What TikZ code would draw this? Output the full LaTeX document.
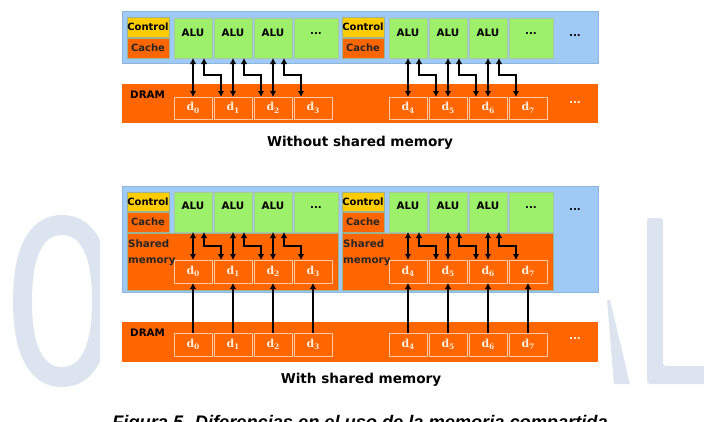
\documentclass[tikz,border=0pt]{standalone}
\usepackage{fontspec}
\setmainfont{DejaVu Sans}
\newfontfamily\capfont{Liberation Sans}
\newfontfamily\dfont{DejaVu Serif}
\usetikzlibrary{arrows.meta}
\definecolor{bluebg}{HTML}{9FCAF5}
\definecolor{blueline}{HTML}{8DB5DE}
\definecolor{alugreen}{HTML}{9CF06A}
\definecolor{aluline}{HTML}{A8C99C}
\definecolor{ctrlyellow}{HTML}{FFCC00}
\definecolor{memorange}{HTML}{FF6600}
\definecolor{dline}{HTML}{FFC9A3}
\definecolor{dtext}{HTML}{FFEBD9}
\definecolor{wmark}{HTML}{DCE4EF}
\tikzset{
  lbl/.style={font=\bfseries\fontsize{10.3}{12}\selectfont, text=black, inner sep=0pt},
  bigl/.style={font=\bfseries\fontsize{13.6}{16}\selectfont, text=black, inner sep=0pt},
  panel/.style={fill=bluebg, draw=blueline, line width=0.6pt, inner sep=0pt, outer sep=0pt},
  band/.style={fill=memorange, draw=none, inner sep=0pt, outer sep=0pt},
  alubox/.style={draw=aluline, fill=alugreen, line width=0.6pt, minimum width=38pt, minimum height=40pt, inner sep=0pt, outer sep=0pt},
  ctrlbox/.style={draw=aluline!70!gray, fill=ctrlyellow, line width=0.5pt, minimum width=42pt, inner sep=0pt, outer sep=0pt, font=\bfseries\fontsize{10}{12}\selectfont, text=black},
  cachebox/.style={draw=aluline!70!gray, fill=memorange, line width=0.5pt, minimum width=42pt, minimum height=20pt, inner sep=0pt, outer sep=0pt, font=\bfseries\fontsize{10}{12}\selectfont, text=black!85},
  dbox/.style={draw=dline, line width=0.8pt, minimum width=38pt, inner sep=0pt, outer sep=0pt, text=dtext, font=\dfont\bfseries\fontsize{11}{13}\selectfont},
  arr/.style={line width=1.6pt, {Latex[length=6pt,width=6.5pt]}-{Latex[length=6pt,width=6.5pt]}},
  uparr/.style={line width=1.6pt, -{Latex[length=6pt,width=6.5pt]}}
}
\newcommand{\dlab}[1]{d\raisebox{-2.4pt}{\fontsize{7.5}{7.5}\selectfont #1}}
\begin{document}
\begin{tikzpicture}[x=1pt,y=-1pt]
\useasboundingbox (0,0) rectangle (704,421);
\clip (0,0) rectangle (704,421);
% watermark
\begin{scope}
\clip (0,0) rectangle (100,421) (606,0) rectangle (704,421);
\fill[wmark, even odd rule]
  (13,301) .. controls (13,238) and (35,215) .. (62,215) .. controls (89,215) and (111,238) .. (111,301)
  .. controls (111,364) and (89,387) .. (62,387) .. controls (35,387) and (13,364) .. (13,301) -- cycle
  (32,301) .. controls (32,252) and (45,235) .. (62,235) .. controls (79,235) and (92,252) .. (92,301)
  .. controls (92,350) and (79,367) .. (62,367) .. controls (45,367) and (32,350) .. (32,301) -- cycle;
\fill[wmark] (607,300) -- (610,300) -- (630,384) -- (614,384) -- cycle;
\fill[wmark, rounded corners=3pt] (647,218) -- (663,218) -- (663,366) -- (712,366) -- (712,384) -- (647,384) -- cycle;
\end{scope}

% ===== top: without shared memory =====
\node[panel, minimum width=476pt, minimum height=52pt] (topbg) at (360,37) {};
\node[band, minimum width=476pt, minimum height=39pt] (tdram) at (360,103.5) {};
\node[lbl, anchor=base west] (tdramlbl) at (130,98) {DRAM};
\foreach \g/\dx in {0/0,1/215}{
  \node[ctrlbox, minimum height=20pt] (tc\g) at (148+\dx,27) {Control};
  \node[cachebox] (tk\g) at (148+\dx,48) {Cache};
  \foreach \i in {0,1,2}{
    \node[alubox] (ta\g\i) at (193+40*\i+\dx,38) {};
    \node[lbl, anchor=base] (tal\g\i) at ([yshift=-18pt]ta\g\i.north) {ALU};
  }
  \node[alubox, minimum width=44pt] (ta\g3) at (316+\dx,38) {};
  \node[lbl, anchor=base] (tal\g3) at ([yshift=-16pt]ta\g3.north) {...};
  \foreach \i [evaluate=\i as \n using {int(4*\g+\i)}] in {0,1,2,3}{
    \node[dbox, minimum height=22pt] (td\g\i) at (193+40*\i+\dx,108) {\dlab{\n}};
  }
  \foreach \i [evaluate=\i as \j using {int(\i+1)}] in {0,1,2}{
    \draw[arr] (ta\g\i.south) -- (td\g\i.north);
    \draw[arr] ([xshift=11pt]ta\g\i.south) -- ++(0,17) -| ([xshift=-12pt]td\g\j.north);
  }
}
\node[lbl, anchor=base] (tdots1) at (575,36) {...};
\node[lbl, anchor=base, text=white!92!orange] (tdots2) at (575,103) {...};
\node[bigl, anchor=base] (ttitle) at (360,146) {Without shared memory};

% ===== bottom: with shared memory =====
\node[panel, minimum width=476pt, minimum height=106pt] (botbg) at (360,239) {};
\node[band, minimum width=476pt, minimum height=40pt] (bdram) at (360,342) {};
\node[lbl, anchor=base west] (bdramlbl) at (130,336) {DRAM};
\foreach \g/\dx in {0/0,1/215}{
  \node[ctrlbox, minimum height=19pt] (bc\g) at (148+\dx,201.5) {Control};
  \node[cachebox] (bk\g) at (148+\dx,222) {Cache};
  \node[band, draw=aluline!70!gray, line width=0.5pt, minimum width=211pt, minimum height=57pt] (sm\g) at (232.5+\dx,261.5) {};
  \node[lbl, anchor=base west, text=black!85] (smla\g) at (128+\dx,247) {Shared};
  \node[lbl, anchor=base west, text=black!85] (smlb\g) at (128+\dx,263.5) {memory};
  \foreach \i in {0,1,2}{
    \node[alubox] (ba\g\i) at (193+40*\i+\dx,212) {};
    \node[lbl, anchor=base] (bal\g\i) at ([yshift=-17.5pt]ba\g\i.north) {ALU};
  }
  \node[alubox, minimum width=44pt] (ba\g3) at (316+\dx,212) {};
  \node[lbl, anchor=base] (bal\g3) at ([yshift=-16pt]ba\g3.north) {...};
  \foreach \i [evaluate=\i as \n using {int(4*\g+\i)}] in {0,1,2,3}{
    \node[dbox, minimum height=23pt] (sd\g\i) at (193+40*\i+\dx,271.5) {\dlab{\n}};
    \node[dbox, minimum height=23pt] (bd\g\i) at (193+40*\i+\dx,344.5) {\dlab{\n}};
    \draw[uparr] (bd\g\i.north) -- (sd\g\i.south);
  }
  \foreach \i [evaluate=\i as \j using {int(\i+1)}] in {0,1,2}{
    \draw[arr] (ba\g\i.south) -- (sd\g\i.north);
    \draw[arr] ([xshift=11pt]ba\g\i.south) -- ++(0,14) -| ([xshift=-12pt]sd\g\j.north);
  }
}
\node[lbl, anchor=base] (bdots1) at (575,210) {...};
\node[lbl, anchor=base, text=white!92!orange] (bdots2) at (575,339) {...};
\node[bigl, anchor=base] (btitle) at (361,383) {With shared memory};

\node[font=\capfont\bfseries\itshape\fontsize{18.2}{20}\selectfont, anchor=base, inner sep=0pt] (caption) at (360,428) {Figura 5. Diferencias en el uso de la memoria compartida};
\end{tikzpicture}
\end{document}
